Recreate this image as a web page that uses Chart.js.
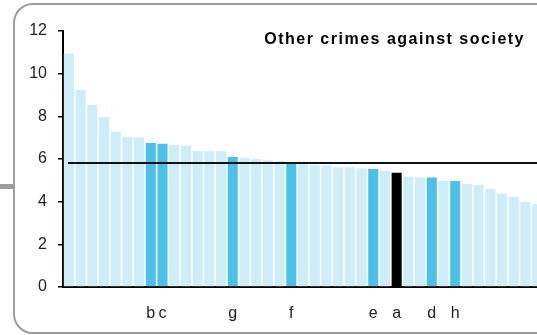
<!DOCTYPE html>
<html>
<head>
<meta charset="utf-8">
<script src="https://cdn.jsdelivr.net/npm/chart.js@4"></script>
<style>
  body { margin: 0; background: #fff; }
  #wrap { position: relative; width: 537px; height: 335px; overflow: hidden; }
  #frame { position: absolute; left: 13px; top: 3px; width: 600px; height: 331px; box-sizing: border-box;
           border: 2px solid #9c9c9c; border-radius: 20px; }
  #tab { position: absolute; left: 0; top: 184px; width: 14px; height: 5px; background: #9c9c9c; }
  #chart { position: absolute; left: 0; top: 0; }
</style>
</head>
<body>
<div id="wrap">
  <div id="frame"></div>
  <div id="tab"></div>
  <canvas id="chart" width="560" height="335"></canvas>
</div>
<script>
const title = "Other crimes against society";

// one code per bar; empty = unlabelled
const codes = [
  "", "", "", "", "", "", "", "b", "c", "",
  "", "", "", "", "g", "", "", "", "", "f",
  "", "", "", "", "", "", "e", "", "a", "",
  "", "d", "", "h", "", "", "", "", "", "", ""
];

const values = [
  10.94, 9.23, 8.53, 7.97, 7.28, 7.04, 7.02, 6.75, 6.72, 6.66,
  6.62, 6.38, 6.36, 6.36, 6.09, 6.05, 6.00, 5.94, 5.89, 5.84,
  5.77, 5.73, 5.69, 5.61, 5.61, 5.55, 5.53, 5.44, 5.35, 5.17,
  5.14, 5.13, 4.97, 4.97, 4.83, 4.78, 4.60, 4.38, 4.22, 3.99, 3.88
];

const average = 5.81;
const yTicks = [0, 2, 4, 6, 8, 10, 12];

document.addEventListener("DOMContentLoaded", function () {
  const colors = codes.map(c => c === "a" ? "#000000" : (c ? "#4bc1ea" : "#cdedf9"));

  // average line + title
  const extras = {
    id: "extras",
    afterDatasetsDraw(chart) {
      const ctx = chart.ctx;
      const y = chart.scales.y.getPixelForValue(average);
      ctx.save();
      ctx.strokeStyle = "#111";
      ctx.lineWidth = 2;
      ctx.beginPath();
      ctx.moveTo(68, y);
      ctx.lineTo(chart.width, y);
      ctx.stroke();

      ctx.fillStyle = "#000";
      ctx.font = "bold 16px 'Liberation Sans', Arial, sans-serif";
      ctx.letterSpacing = "1.5px";
      ctx.textAlign = "right";
      ctx.textBaseline = "alphabetic";
      ctx.fillText(title, 525, 44);
      ctx.restore();
    }
  };

  new Chart(document.getElementById("chart").getContext("2d"), {
    type: "bar",
    data: {
      labels: codes,
      datasets: [{
        data: values,
        backgroundColor: colors,
        borderWidth: 0,
        categoryPercentage: 1,
        barPercentage: 0.86
      }]
    },
    options: {
      responsive: false,
      devicePixelRatio: 1,
      animation: false,
      layout: { padding: { left: 0, top: 31, right: 17, bottom: 0 } },
      plugins: { legend: { display: false }, tooltip: { enabled: false } },
      scales: {
        x: {
          afterFit(scale) { scale.height = 48; },
          grid: { display: false, drawTicks: false },
          border: { color: "#000", width: 2 },
          ticks: {
            autoSkip: false,
            maxRotation: 0,
            padding: 17,
            color: "#222",
            font: { family: "'Liberation Sans', Arial, sans-serif", size: 16 }
          }
        },
        y: {
          min: 0,
          max: 12,
          afterFit(scale) { scale.width = 63; },
          afterBuildTicks(scale) { scale.ticks = yTicks.map(v => ({ value: v })); },
          grid: { drawOnChartArea: false, drawTicks: true, tickLength: 5, color: "#000", lineWidth: 1.5 },
          border: { color: "#000", width: 2 },
          ticks: {
            padding: 11,
            color: "#222",
            font: { family: "'Liberation Sans', Arial, sans-serif", size: 16 }
          }
        }
      }
    },
    plugins: [extras]
  });
});
</script>
</body>
</html>
